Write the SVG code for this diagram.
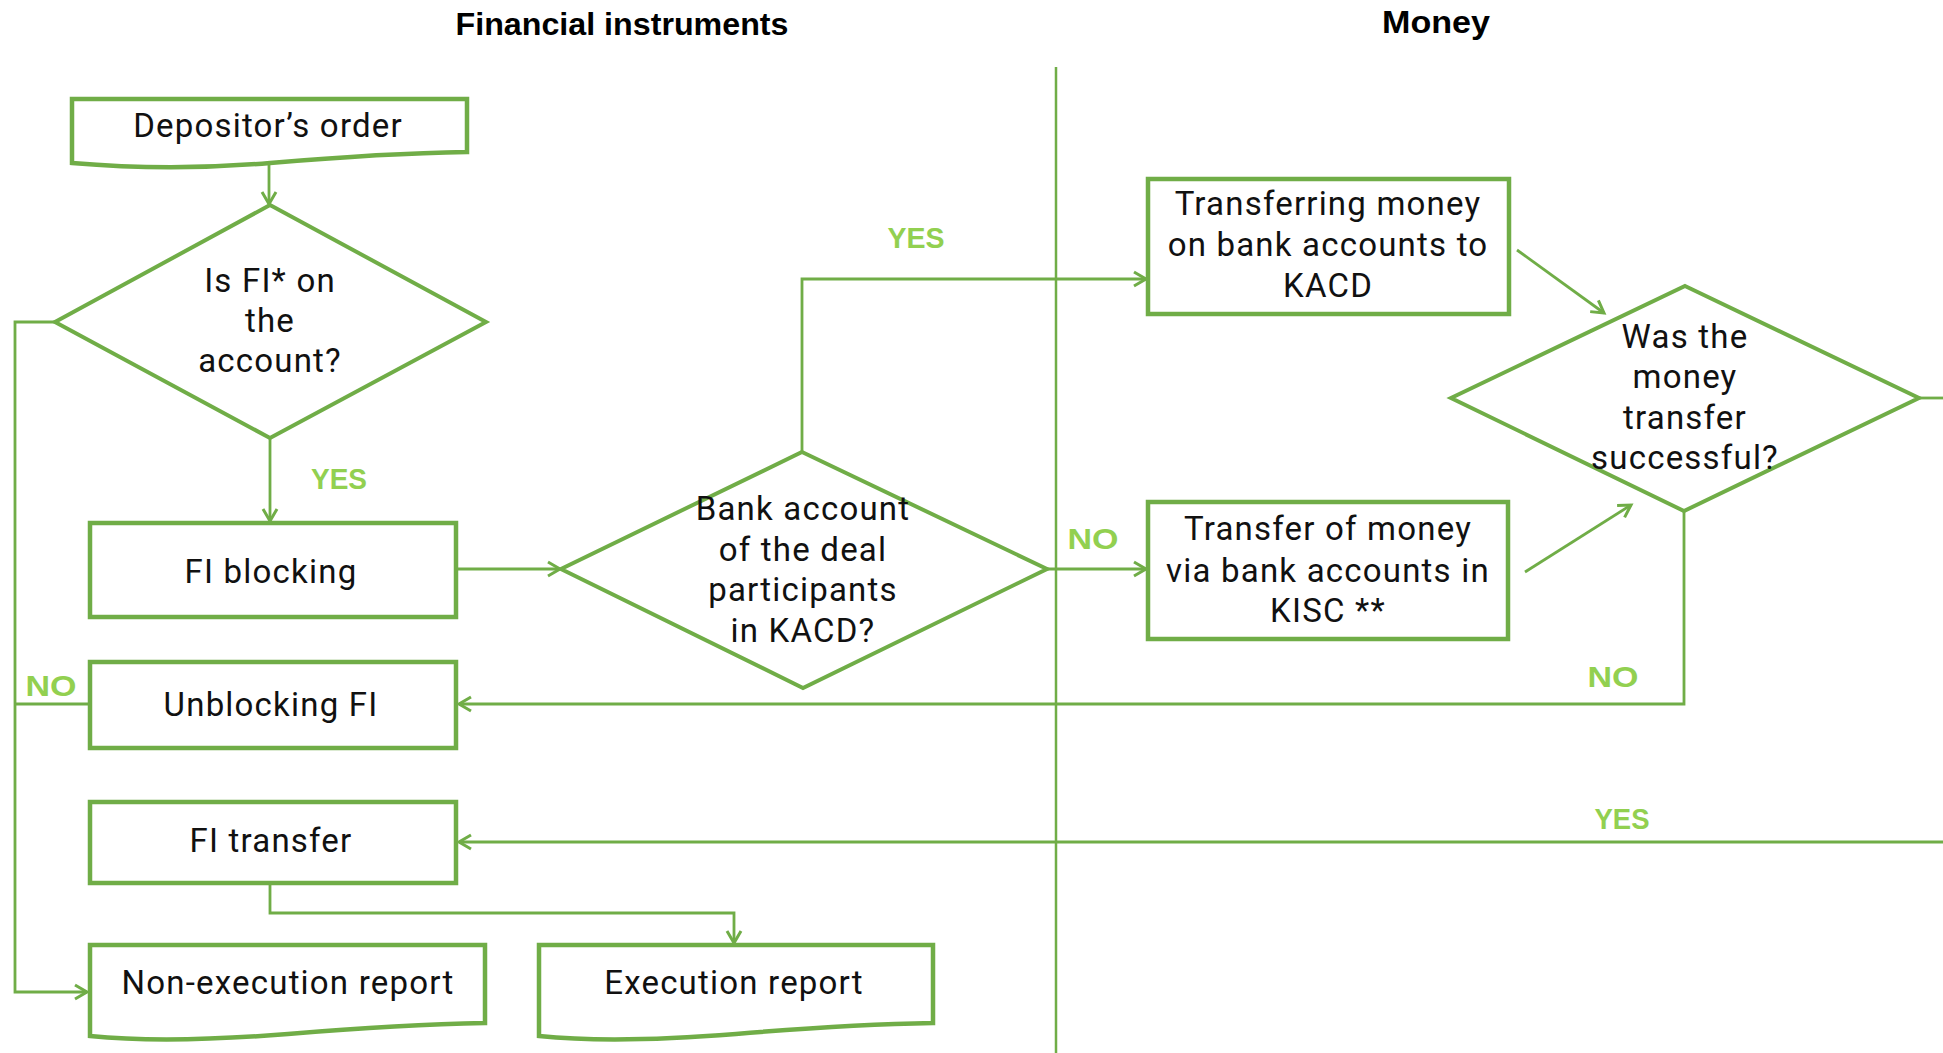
<svg xmlns="http://www.w3.org/2000/svg" width="1943" height="1053" viewBox="0 0 1943 1053">
<defs>
<marker id="arr" markerUnits="userSpaceOnUse" markerWidth="30" markerHeight="30" viewBox="-15 -15 30 30" refX="0" refY="0" orient="auto">
<path d="M-12,-7 L0,0 L-12,7" fill="none" stroke="#70AD47" stroke-width="3"/>
</marker>
</defs>
<style>
.box{fill:#fff;stroke:#70AD47;stroke-width:4.5}
.dia{fill:#fff;stroke:#70AD47;stroke-width:4}
.con{fill:none;stroke:#70AD47;stroke-width:2.8}
.arr{marker-end:url(#arr)}
.t{font-family:Roboto,"Open Sans",sans-serif;font-size:33px;letter-spacing:1.2px;fill:#111;text-anchor:middle}
.h{font-family:"Liberation Sans",Arial,sans-serif;font-size:31px;font-weight:bold;fill:#000;text-anchor:middle}
.lb{font-family:"Liberation Sans",Arial,sans-serif;font-size:30px;font-weight:bold;fill:#92D050;text-anchor:middle}
</style>
<rect width="1943" height="1053" fill="#fff"/>
<text class="h" x="622" y="35" textLength="333" lengthAdjust="spacingAndGlyphs">Financial instruments</text>
<text class="h" x="1436" y="33" textLength="108" lengthAdjust="spacingAndGlyphs">Money</text>
<line x1="1056" y1="67" x2="1056" y2="1053" stroke="#70AD47" stroke-width="2.5"/>
<g id="connectors">
<path class="con arr" d="M269,163 V204"/>
<path class="con arr" d="M270,438 V521"/>
<path class="con arr" d="M55,322 H15 V992 H87"/>
<path class="con" d="M90,704 H15"/>
<path class="con arr" d="M456,569 H560"/>
<path class="con arr" d="M802,452 V279 H1146"/>
<path class="con arr" d="M1047,569 H1146"/>
<path class="con arr" d="M1517,250 L1604,313"/>
<path class="con arr" d="M1525,572 L1631,505"/>
<path class="con arr" d="M1684,511 V704 H459"/>
<path class="con" d="M1919,398 H1943"/>
<path class="con arr" d="M1943,842 H459"/>
<path class="con arr" d="M270,883 V913 H734 V943"/>
</g>
<g id="n-depositor">
<path class="box" d="M72,99 H467 V152 C400,153 340,157 270,163 C200,169 130,168 72,163 Z"/>
<text class="t" x="268" y="137">Depositor’s order</text>
</g>
<g id="n-isfi">
<polygon class="dia" points="270,205 486,322 270,438 55,322"/>
<text class="t" x="270" y="292">Is FI* on<tspan x="270" dy="40">the</tspan><tspan x="270" dy="40">account?</tspan></text>
</g>
<g id="n-blocking">
<rect class="box" x="90" y="523" width="366" height="94"/>
<text class="t" x="271" y="583">FI blocking</text>
</g>
<g id="n-unblocking">
<rect class="box" x="90" y="662" width="366" height="86"/>
<text class="t" x="271" y="716">Unblocking FI</text>
</g>
<g id="n-fitransfer">
<rect class="box" x="90" y="802" width="366" height="81"/>
<text class="t" x="271" y="852">FI transfer</text>
</g>
<g id="n-nonexec">
<path class="box" d="M90,945 H485 V1023 C420,1024 370,1027 288,1034 C200,1041 140,1041 90,1036 Z"/>
<text class="t" x="288" y="994">Non-execution report</text>
</g>
<g id="n-exec">
<path class="box" d="M539,945 H933 V1023 C868,1024 818,1027 736,1034 C648,1041 588,1041 539,1036 Z"/>
<text class="t" x="734" y="994">Execution report</text>
</g>
<g id="n-bankacc">
<polygon class="dia" points="802,452 1047,569 803,688 561,569"/>
<text class="t" x="803" y="520">Bank account<tspan x="803" dy="41">of the deal</tspan><tspan x="803" dy="40">participants</tspan><tspan x="803" dy="41">in KACD?</tspan></text>
</g>
<g id="n-transferring">
<rect class="box" x="1148" y="179" width="361" height="135"/>
<text class="t" x="1328" y="215">Transferring money<tspan x="1328" dy="41">on bank accounts to</tspan><tspan x="1328" dy="41">KACD</tspan></text>
</g>
<g id="n-kisc">
<rect class="box" x="1148" y="502" width="360" height="137"/>
<text class="t" x="1328" y="540">Transfer of money<tspan x="1328" dy="42">via bank accounts in</tspan><tspan x="1328" dy="40">KISC **</tspan></text>
</g>
<g id="n-success">
<polygon class="dia" points="1685,286 1919,398 1684,511 1451,398"/>
<text class="t" x="1685" y="348">Was the<tspan x="1685" dy="40">money</tspan><tspan x="1685" dy="41">transfer</tspan><tspan x="1685" dy="40">successful?</tspan></text>
</g>
<g id="labels">
<text class="lb" x="339" y="489" textLength="56" lengthAdjust="spacingAndGlyphs">YES</text>
<text class="lb" x="916" y="248" textLength="57" lengthAdjust="spacingAndGlyphs">YES</text>
<text class="lb" x="1093" y="549" textLength="51" lengthAdjust="spacingAndGlyphs">NO</text>
<text class="lb" x="51" y="696" textLength="51" lengthAdjust="spacingAndGlyphs">NO</text>
<text class="lb" x="1613" y="687" textLength="51" lengthAdjust="spacingAndGlyphs">NO</text>
<text class="lb" x="1622" y="829" textLength="55" lengthAdjust="spacingAndGlyphs">YES</text>
</g>
</svg>
